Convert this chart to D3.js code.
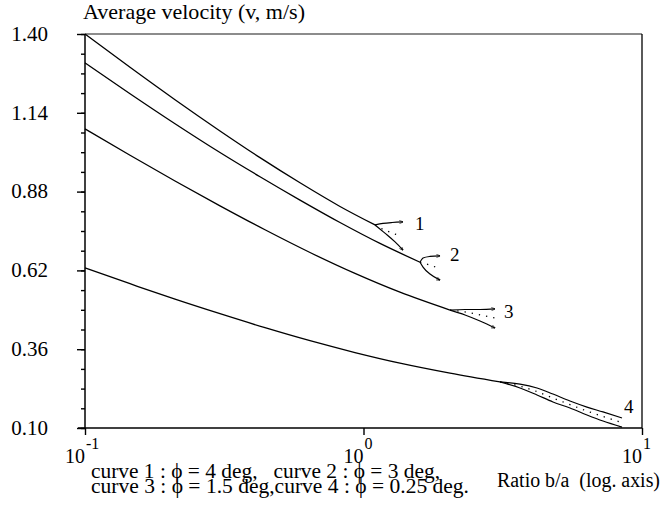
<!DOCTYPE html>
<html><head><meta charset="utf-8">
<script src="https://cdn.jsdelivr.net/npm/d3@7"></script>
<style>
html,body{margin:0;padding:0;background:#fff;}
text{font-family:"Liberation Serif","Times New Roman",serif;fill:#000;}
</style></head>
<body><svg id="c" width="665" height="510"></svg>
<script>
// ---- data (ratio b/a, average velocity m/s) ----
const curve1 = [[0.1,1.40],[0.1451,1.290],[0.2105,1.183],[0.3053,1.080],[0.425,0.992],[0.5916,0.909],[0.8234,0.831],[1.10,0.770]];
const curve2 = [[0.1,1.305],[0.1451,1.203],[0.2105,1.104],[0.3053,1.009],[0.425,0.929],[0.5916,0.852],[0.8234,0.778],[1.146,0.709],[1.596,0.647]];
const curve3 = [[0.1,1.087],[0.1451,1.000],[0.2105,0.915],[0.3053,0.833],[0.4429,0.754],[0.6426,0.679],[0.9321,0.610],[1.352,0.548],[2.045,0.489]];
const curve4 = [[0.1,0.628],[0.1451,0.576],[0.2105,0.525],[0.3053,0.477],[0.4429,0.431],[0.6426,0.388],[0.9321,0.349],[1.352,0.314],[2.045,0.281],[3.091,0.252]];

const fan1Upper = [[1.10,0.770],[1.175,0.775],[1.266,0.778],[1.386,0.780]];
const fan1Lower = [[1.10,0.770],[1.194,0.743],[1.298,0.714],[1.386,0.687]];
const fan1Mid   = [[1.10,0.770],[1.172,0.756],[1.262,0.744],[1.352,0.734]];
const fan2Upper = [[1.596,0.647],[1.636,0.661],[1.733,0.666],[1.883,0.668]];
const fan2Lower = [[1.596,0.647],[1.636,0.631],[1.733,0.608],[1.883,0.588]];
const fan2Mid   = [[1.596,0.647],[1.777,0.634],[1.883,0.625]];
const fan3Upper = [[2.045,0.489],[2.315,0.491],[2.620,0.491],[2.966,0.493]];
const fan3Lower = [[2.045,0.489],[2.315,0.473],[2.620,0.453],[2.966,0.430]];
const fan3Mid   = [[2.045,0.489],[2.315,0.483],[2.620,0.473],[2.966,0.463]];
const fan4Upper = [[3.091,0.252],[3.647,0.245],[4.198,0.232],[4.790,0.212],[5.513,0.189],[6.346,0.169],[7.244,0.153],[8.476,0.133]];
const fan4Lower = [[3.091,0.252],[3.647,0.232],[4.198,0.209],[4.790,0.186],[5.513,0.166],[6.346,0.143],[7.244,0.123],[8.476,0.103]];
const fan4Mid   = [[3.091,0.252],[3.647,0.238],[4.198,0.220],[4.790,0.199],[5.513,0.177],[6.346,0.156],[7.244,0.138],[8.476,0.118]];

const curveLabels = ["1","2","3","4"];
const yMajorTicks = [0.10,0.36,0.62,0.88,1.14,1.40];
const xMajorTicks = [0.1,1,10];
const xTickExponents = ["-1","0","1"];
const yTitle = "Average velocity (v, m/s)";
const xTitle = "Ratio b/a\u00A0\u00A0(log. axis)";
const legendLines = ["curve 1 : \u03D5 = 4 deg,\u00A0\u00A0 curve 2 : \u03D5 = 3 deg,",
                     "curve 3 : \u03D5 = 1.5 deg,curve 4 : \u03D5 = 0.25 deg."];

// ---- layout ----
const L = 85, R = 642, T = 34, B = 428;
const svg = d3.select("#c");
const x = d3.scaleLog().domain([0.1,10]).range([L,R]);
const y = d3.scaleLinear().domain([0.10,1.40]).range([B,T]);

// frame
svg.append("line").attr("x1",L).attr("x2",R).attr("y1",T).attr("y2",T).attr("stroke","#666").attr("stroke-width",1.3);
svg.append("line").attr("x1",R).attr("x2",R).attr("y1",T).attr("y2",B).attr("stroke","#000").attr("stroke-width",1.3);

// y axis
const yMinor = d3.range(0, 21).map(i => 0.10 + i*0.065);
const yAx = svg.append("g").attr("transform",`translate(${L},0)`)
  .call(d3.axisLeft(y).tickValues(yMinor).tickSize(4).tickFormat(""));
yAx.selectAll("path").remove();
yAx.selectAll("line").attr("stroke","#000").attr("stroke-width",1.4);
const yAxM = svg.append("g").attr("transform",`translate(${L},0)`)
  .call(d3.axisLeft(y).tickValues(yMajorTicks).tickSize(8).tickPadding(29).tickFormat(d3.format(".2f")));
yAxM.select("path").attr("d",`M0,${B}V${T}`).attr("stroke","#000").attr("stroke-width",1.5);
yAxM.selectAll("line").attr("stroke","#000").attr("stroke-width",1.4);
yAxM.selectAll("text").attr("font-family","Liberation Serif").attr("font-size",21).attr("fill","#000").attr("dy","0.3em");

// x axis
const xAx = svg.append("g").attr("transform",`translate(0,${B})`)
  .call(d3.axisBottom(x).tickValues(xMajorTicks).tickSize(7).tickFormat(""));
xAx.select("path").attr("d",`M${L-7},0H${R}`).attr("stroke","#000").attr("stroke-width",1.5);
xAx.selectAll("line").attr("stroke","#000").attr("stroke-width",1.4);
xMajorTicks.forEach((v,i) => {
  svg.append("text").attr("x",x(v)).attr("y",B+35).attr("text-anchor","end").attr("font-size",20).text("10");
  svg.append("text").attr("x",x(v)+1).attr("y",B+21).attr("font-size",16).text(xTickExponents[i]);
});

// titles
svg.append("text").attr("x",83).attr("y",19).attr("font-size",21).attr("textLength",222).attr("lengthAdjust","spacingAndGlyphs").text(yTitle);
svg.append("text").attr("x",497).attr("y",487).attr("font-size",20).attr("textLength",163).attr("lengthAdjust","spacingAndGlyphs").text(xTitle);
const legendWidths = [349, 378];
legendLines.forEach((s,i)=>{
  svg.append("text").attr("x",91).attr("y",478+i*15).attr("font-size",20)
    .attr("textLength",legendWidths[i]).attr("lengthAdjust","spacingAndGlyphs").text(s);
});

// curves
const line = d3.line().x(d=>x(d[0])).y(d=>y(d[1])).curve(d3.curveMonotoneX);
const g = svg.append("g").attr("fill","none").attr("stroke","#000");
[curve1,curve2,curve3,curve4].forEach(c => g.append("path").attr("d",line(c)).attr("stroke-width",1.3));

// small arrowhead marker for branch ends
svg.append("defs").append("marker").attr("id","ah").attr("viewBox","0 0 10 10").attr("refX",9).attr("refY",5)
  .attr("markerWidth",4).attr("markerHeight",4).attr("orient","auto").attr("markerUnits","userSpaceOnUse")
  .append("path").attr("d","M0,1L10,5L0,9").attr("fill","none").attr("stroke","#000").attr("stroke-width",1.6);

const fans = [[fan1Upper,fan1Lower,fan1Mid],[fan2Upper,fan2Lower,fan2Mid],[fan3Upper,fan3Lower,fan3Mid],[fan4Upper,fan4Lower,fan4Mid]];
fans.forEach((f,i) => {
  g.append("path").attr("d",line(f[0])).attr("stroke-width",1.2).attr("marker-end", i<3 ? "url(#ah)" : null);
  g.append("path").attr("d",line(f[1])).attr("stroke-width",1.2).attr("marker-end", i<3 ? "url(#ah)" : null);
  g.append("path").attr("d",line(f[2])).attr("stroke-width",1.3).attr("stroke-dasharray","1.3,6");
});

// curve number labels next to fan ends
const labelOffsets = [[12,8],[10,5],[9,9],[2,-5]];
fans.forEach((f,i) => {
  const e = f[0][f[0].length-1];
  svg.append("text").attr("x",x(e[0])+labelOffsets[i][0]).attr("y",y(e[1])+labelOffsets[i][1]).attr("font-size",19).text(curveLabels[i]);
});
</script></body></html>
